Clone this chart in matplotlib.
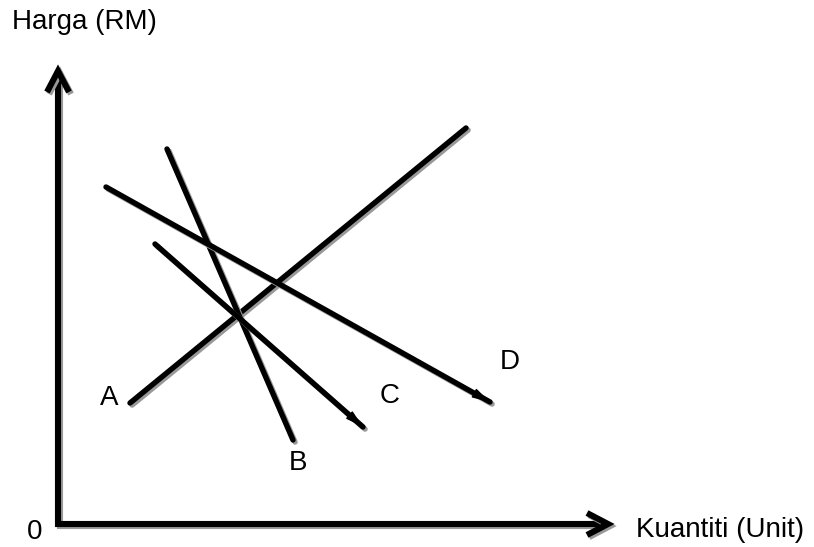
import matplotlib
matplotlib.use("Agg")
import matplotlib.pyplot as plt
import matplotlib.patheffects as pe

plt.rcParams['font.family'] = ['Liberation Sans', 'DejaVu Sans']

# diagram units: origin at the axis corner, 1 unit ~ 1 px
garis_nama = ['A', 'B', 'C', 'D']
garis_x0 = [72, 109, 97, 48]
garis_y0 = [121, 375, 280, 337]
garis_x1 = [408, 235, 305, 432]
garis_y1 = [396, 84, 97, 122]

label_x = [51, 240, 332, 452]
label_y = [126, 61, 128, 162]

paksi_x_max = 550
paksi_y_max = 453

shadow = [pe.SimpleLineShadow(offset=(1.5, -1.5), shadow_color='#999999', alpha=1.0),
          pe.Normal()]

fig = plt.figure(figsize=(8.14, 5.47), dpi=100)
ax = fig.add_axes([0, 0, 1, 1])
ax.set_xlim(-58, 756)
ax.set_ylim(-23, 524)
ax.axis('off')

# axes with open chevron heads
L, W = 21, 11
ax.plot([0, 0, paksi_x_max], [paksi_y_max, 0, 0], color='black', lw=4.4,
        solid_joinstyle='miter', solid_capstyle='butt', path_effects=shadow)
ax.plot([-W, 0, W], [paksi_y_max - L, paksi_y_max, paksi_y_max - L], color='black', lw=4.4,
        solid_joinstyle='miter', solid_capstyle='butt', path_effects=shadow)
ax.plot([paksi_x_max - L, paksi_x_max, paksi_x_max - L], [W, 0, -W], color='black', lw=4.4,
        solid_joinstyle='miter', solid_capstyle='butt', path_effects=shadow)

for i in range(len(garis_nama)):
    ax.plot([garis_x0[i], garis_x1[i]], [garis_y0[i], garis_y1[i]],
            color='black', lw=3.9, solid_capstyle='round', path_effects=shadow)
    ax.text(label_x[i], label_y[i], garis_nama[i], fontsize=20,
            ha='center', va='center')

# small heads near the ends of C and D
for i in [2, 3]:
    dx = garis_x1[i] - garis_x0[i]
    dy = garis_y1[i] - garis_y0[i]
    ax.annotate('', xy=(garis_x1[i], garis_y1[i]),
                xytext=(garis_x1[i] - dx * 0.1, garis_y1[i] - dy * 0.1),
                arrowprops=dict(arrowstyle='-|>,head_length=1.1,head_width=0.3',
                                mutation_scale=10, lw=1, color='black',
                                shrinkA=0, shrinkB=0))

ax.text(-46, 502, 'Harga (RM)', fontsize=20, ha='left', va='center')
ax.text(-23, -8, '0', fontsize=20, ha='center', va='center')
ax.text(578, -6, 'Kuantiti (Unit)', fontsize=20, ha='left', va='center')

fig.savefig('out.png', dpi=100)
